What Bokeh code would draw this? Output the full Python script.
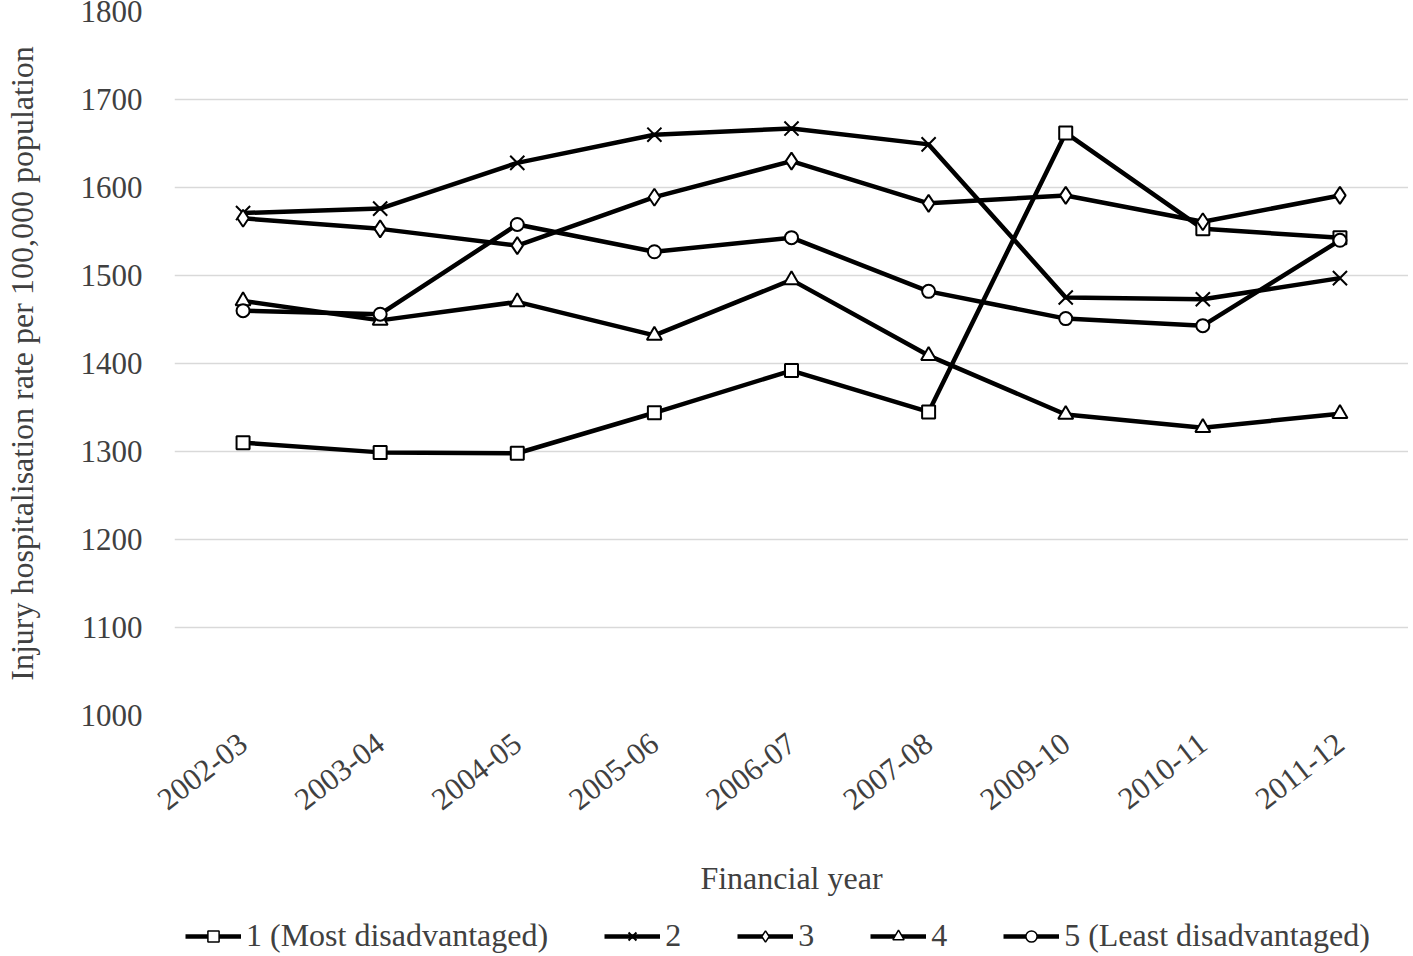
from bokeh.plotting import figure
from bokeh.models import Range1d, FixedTicker, Legend, LegendItem
from bokeh.layouts import column
from bokeh.embed import file_html
from bokeh.resources import INLINE

years = ["2002-03", "2003-04", "2004-05", "2005-06", "2006-07", "2007-08", "2009-10", "2010-11", "2011-12"]
q1 = [1310, 1299, 1298, 1344, 1392, 1345, 1662, 1553, 1543]
q2 = [1571, 1576, 1628, 1660, 1667, 1649, 1475, 1473, 1497]
q3 = [1565, 1553, 1534, 1589, 1630, 1582, 1591, 1561, 1591]
q4 = [1471, 1449, 1470, 1432, 1495, 1409, 1342, 1327, 1343]
q5 = [1460, 1456, 1558, 1527, 1543, 1482, 1451, 1443, 1540]
labels = ["1 (Most disadvantaged)", "2", "3", "4", "5 (Least disadvantaged)"]
y_ticks = [1000, 1100, 1200, 1300, 1400, 1500, 1600, 1700, 1800]

FONT = "Liberation Serif"
TXT = "#404040"

p = figure(x_range=years, y_range=Range1d(1000, 1800),
           frame_width=1234, frame_height=704,
           output_backend="svg", toolbar_location=None,
           min_border_left=167, min_border_right=0, min_border_top=11, min_border_bottom=189)
p.outline_line_color = None
p.xgrid.grid_line_color = None
p.ygrid.grid_line_color = "#d9d9d9"
p.ygrid.grid_line_width = 1.5
p.yaxis.ticker = FixedTicker(ticks=y_ticks)

for ax in (p.xaxis[0], p.yaxis[0]):
    ax.axis_line_color = None
    ax.major_tick_line_color = None
    ax.minor_tick_line_color = None
    ax.major_label_text_font = FONT
    ax.major_label_text_font_size = "31px"
    ax.major_label_text_color = TXT
    ax.axis_label_text_font = FONT
    ax.axis_label_text_font_size = "32px"
    ax.axis_label_text_font_style = "normal"
    ax.axis_label_text_color = TXT

p.yaxis.axis_label = "Injury hospitalisation rate per 100,000 population"
p.yaxis.major_label_standoff = 26
p.yaxis.axis_label_standoff = 38
p.xaxis.axis_label = "Financial year"
p.xaxis.major_label_orientation = 0.66
p.xaxis.major_label_standoff = 18
p.xaxis.axis_label_standoff = 38

series = [q1, q2, q3, q4, q5]
markers = ["square", "x", "diamond", "triangle", "circle"]
msizes = [13, 20, 17, 15, 13]
for s, m, ms in zip(series, markers, msizes):
    p.line(years, s, line_color="black", line_width=4.5)
    if m == "x":
        p.scatter(years, s, marker=m, size=ms, line_color="black", line_width=2)
    else:
        p.scatter(years, s, marker=m, size=ms, fill_color="white", line_color="black", line_width=2)

# legend strip below the chart (its dummy renderers lie outside its visible range)
lg = figure(width=1397, height=50, x_range=Range1d(0, 1), y_range=Range1d(0, 1),
            output_backend="svg", toolbar_location=None,
            x_axis_type=None, y_axis_type=None, min_border=0)
lg.outline_line_color = None
lg.grid.grid_line_color = None
items = []
for m, lab in zip(markers, labels):
    r1 = lg.line([-5, -4], [-5, -4], line_color="black", line_width=4.5)
    if m == "x":
        r2 = lg.scatter([-5], [-5], marker=m, size=10, line_color="black", line_width=2)
    else:
        r2 = lg.scatter([-5], [-5], marker=m, size=10, fill_color="white", line_color="black", line_width=1.5)
    items.append(LegendItem(label=lab, renderers=[r1, r2]))

legend = Legend(items=items, orientation="horizontal", location=(11, 0),
                label_text_font=FONT, label_text_font_size="32px", label_text_color=TXT,
                glyph_width=56, glyph_height=28, spacing=56, label_standoff=5, label_width=10,
                border_line_color=None, background_fill_alpha=0, padding=0, margin=0)
lg.add_layout(legend, "center")

open("out.html", "w").write(file_html(column(p, lg, spacing=0), INLINE))
